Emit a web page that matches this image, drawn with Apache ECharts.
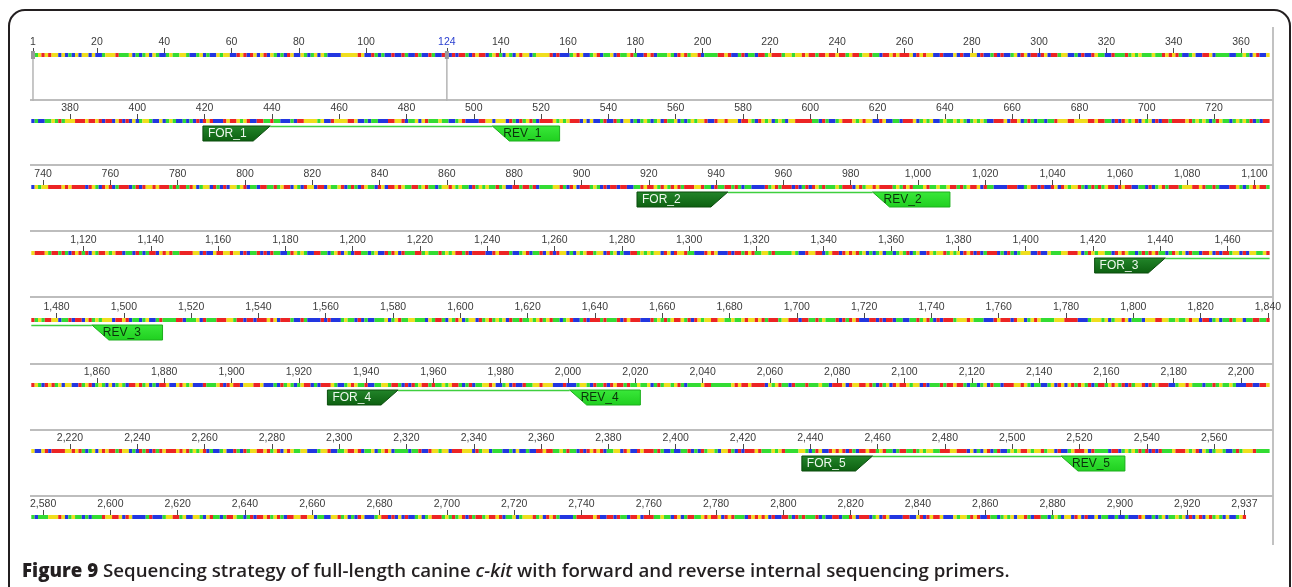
<!DOCTYPE html>
<html>
<head>
<meta charset="utf-8">
<script src="https://cdn.jsdelivr.net/npm/echarts@6/dist/echarts.min.js"></script>
<style>
  html, body { margin: 0; padding: 0; background: #fff; }
  #chart { width: 1292px; height: 587px; }
</style>
</head>
<body>
<div id="chart"></div>
<script>
// c-kit coding sequence, 20 codons per line (979 codons = 2937 bp)
const SEQ_LINES = [
  'ATG AGA GGC GCT CGC GGC GCC TGG GAT TTG CTC TGC GTC CTG TTG GTC CTG CTC CGT GGC',
  'CAG ACA GCG ACG TCT CAG CCG TCT GCG TCC CCG GGG GAG CCA TCT CCA CCA TCC ATC CAT',
  'CCA GCA CAA TCA GAA CTG ATC GTC GAG GCT GGG GAC ACC CTG AGC CTG ACT TGC ATT GAT',
  'CCA GAC TTT GTC AGA TGG ACT TTT AAG ACC TAC TTC AAT GAA ATG GTG GAG AAT AAG AAG',
  'AAT GAA TGG ATT CAA GAG AAA GCA GAG GCC ACC CGC ACC GGC ACC TAC ACC TGC AGC AAC',
  'AGC AAT GGC CTC ACC AGT TCC ATT TAT GTG TTT GTT AGA GAT CCT GCC AAG CTT TTC CTT',
  'GTC GAC CGC TCC TTG TAT GGG AAA GAA GAC AAC GAC ACG CTG GTC CGC TGT CCT CTC ACA',
  'GAC CCA GAA GTG ACC AAT TAT TCC CTC AAG GGG TGC CAG GGG AAG CCT CTT CCC AAG GAC',
  'TTG CGA TTT GTT CCT GAC CCC AAG GCG GGC ATC ATG ATC AAA AGT GTG AAA CGC GCC TAC',
  'CAT CGG CTC TGT CTG CAT TGC TCT GTG GAC CAG GAG GGC AAG TCA GTG CTG TCG GAA AAA',
  'TTC ATC CTG AAA GTG AGG CCA GCC TTC AAA GCT GTG CCT GTT GTG TCT GTG TCC AAA GCA',
  'AGC TAT CTT CTT AGG GAA GGG GAA GAA TTC ACA GTG ACG TGC ACA ATA AAA GAT GTG TCT',
  'AGT TCT GTG TAC TCA ACG TGG AAA AGA GAA AAC AGT CAG ACT AAA CTA CAG GAG AAA TAT',
  'AAT AGC TGG CAT CAC GGT GAC TTC AAT TAT GAA CGT CAG GCA ACG TTG ACT ATC AGT TCA',
  'GCA AGA GTT AAT GAT TCT GGA GTG TTC ATG TGT TAT GCC AAT AAT ACT TTT GGA TCA GCA',
  'AAT GTC ACA ACA ACC TTA GAA GTA GTA GAT AAA GGA TTC ATT AAT ATC TTC CCC ATG ATA',
  'AAC ACT ACA GTA TTT GTA AAC GAT GGA GAA AAT GTA GAT TTG ATT GTT GAA TAT GAA GCA',
  'TTC CCC AAA CCT GAA CAC CAG CAG TGG ATC TAT ATG AAC AGA ACC TTC ACT GAT AAA TGG',
  'GAA GAT TAT CCC AAG TCT GAG AAT GAA AGT AAT ATC AGA TAC GTA AGT GAA CTT CAT CTA',
  'ACG AGA TTA AAA GGC ACC GAA GGA GGC ACT TAC ACA TTC CTA GTG TCC AAT TCT GAC GTC',
  'AAT TCT GCC ATA GCA TTT AAT GTT TAT GTG AAT ACA AAA CCA GAA ATC CTG ACT TAC GAC',
  'AGG CTC GTG AAT GGC ATG CTC CAA TGT GTG GCA GCA GGA TTC CCA GAG CCC ACA ATA GAT',
  'TGG TAT TTT TGT CCA GGA ACT GAA CAG AGA TGC TCT GCT TCT GTA CTG CCA GTG GAT GTG',
  'CAG ACA CTA AAC TCA TCT GGG CCA CCG TTT GGA AAG CTA GTG GTT CAG AGT TCT ATA GAT',
  'TCT AGT GCA TTC AAG CAC AAT GGC ACG GTT GAA TGT AAG GCT TAC AAC GAT GTG GGC AAG',
  'ACT TCT GCC TAT TTT AAC TTT GCA TTT AAA GGT AAC AAC AAA GAG CAA ATC CAT CCC CAC',
  'ACC CTG TTC ACT CCT TTG CTG ATT GGT TTC GTA ATC GTA GCT GGC ATG ATG TGC ATT ATT',
  'GTG ATG ATT CTG ACC TAC AAA TAT TTA CAG AAA CCC ATG TAT GAA GTA CAG TGG AAG GTT',
  'GTT GAG GAG ATA AAT GGA AAC AAT TAT GTT TAC ATA GAC CCA ACA CAA CTT CCT TAT GAT',
  'CAC AAA TGG GAG TTT CCC AGA AAC AGG CTG AGT TTT GGG AAA ACC CTG GGT GCT GGA GCT',
  'TTC GGG AAG GTT GTT GAG GCA ACT GCT TAT GGC TTA ATT AAG TCA GAT GCG GCC ATG ACT',
  'GTC GCT GTC AAG ATG CTC AAG CCG AGT GCC CAT TTG ACA GAA CGG GAA GCC CTC ATG TCT',
  'GAA CTC AAA GTC CTG AGT TAC CTT GGT AAT CAC ATG AAT ATT GTG AAT CTA CTT GGA GCC',
  'TGC ACC ATT GGA GGG CCC ACC CTG GTC ATT ACA GAA TAT TGT TGC TAT GGT GAT CTT TTG',
  'AAT TTT TTG AGA AGA AAA CGT GAT TCA TTT ATT TGT TCA AAG CAG GAA GAT CAT GCA GAA',
  'GTG GCA CTT TAT AAG AAT CTT CTG CAT TCA AAG GAG TCT TCC TGC AGC GAT AGT ACT AAT',
  'GAG TAC ATG GAC ATG AAA CCT GGA GTT TCT TAT GTT GTC CCA ACC AAG GCC GAC AAA AGG',
  'AGA TCT GCG AGA ATA GGC TCA TAC ATA GAA AGA GAT GTG ACT CCT GCC ATC ATG GAA GAT',
  'GAC GAG TTG GCC CTG GAC CTT GAA GAC TTG CTG AGC TTT TCT TAC CAG GTG GCA AAG GGC',
  'ATG GCT TTC CTC GCC TCC AAG AAT TGT ATT CAC AGA GAC TTG GCA GCC AGA AAT ATC CTC',
  'CTT ACT CAT GGT CGG ATC ACA AAG ATT TGT GAT TTT GGT CTA GCC AGA GAC ATC AAG AAT',
  'GAT TCT AAT TAT GTG GTT AAA GGA AAC GCT CGA CTA CCT GTG AAG TGG ATG GCA CCT GAA',
  'AGC ATT TTC AAC TGT GTA TAC ACA TTT GAA AGT GAC GTC TGG TCC TAT GGG ATT TTT CTT',
  'TGG GAG CTG TTC TCT TTA GGA AGC AGC CCC TAC CCT GGA ATG CCG GTC GAT TCT AAG TTC',
  'TAC AAG ATG ATC AAG GAA GGC TTC CGG ATG CTC AGC CCT GAA CAC GCA CCT GCT GAA ATG',
  'TAT GAC ATA ATG AAG ACT TGC TGG GAT GCA GAT CCC CTA AAA AGA CCA ACA TTC AAG CAA',
  'ATT GTT CAG CTA ATT GAG AAG CAG ATT TCA GAG AGC ACC AAT CAT ATT TAC TCC AAC TTA',
  'GCA AAC TGC AGC CCC AAC CGA CAG AAG CCC GTG GTA GAC CAT TCT GTG CGG ATC AAT TCT',
  'GTC GGC AGC ACC GCT TCC TCC TCC CAG CCT CTG CTT GTG CAC GAC GAT GTC GCC TGA'
];
const SEQ = SEQ_LINES.join(' ').replace(/\s+/g, '');

// rows of the map (first/last base of each line)
const ROW_START = [1, 369, 737, 1105, 1473, 1841, 2209, 2577];
const ROW_END = [368, 736, 1104, 1472, 1840, 2208, 2576, 2937];

const ROW_TICKS = [
  [1, 20, 40, 60, 80, 100, 124, 140, 160, 180, 200, 220, 240, 260, 280, 300, 320, 340, 360],
  [380, 400, 420, 440, 460, 480, 500, 520, 540, 560, 580, 600, 620, 640, 660, 680, 700, 720],
  [740, 760, 780, 800, 820, 840, 860, 880, 900, 920, 940, 960, 980, 1000, 1020, 1040, 1060, 1080, 1100],
  [1120, 1140, 1160, 1180, 1200, 1220, 1240, 1260, 1280, 1300, 1320, 1340, 1360, 1380, 1400, 1420, 1440, 1460],
  [1480, 1500, 1520, 1540, 1560, 1580, 1600, 1620, 1640, 1660, 1680, 1700, 1720, 1740, 1760, 1780, 1800, 1820, 1840],
  [1860, 1880, 1900, 1920, 1940, 1960, 1980, 2000, 2020, 2040, 2060, 2080, 2100, 2120, 2140, 2160, 2180, 2200],
  [2220, 2240, 2260, 2280, 2300, 2320, 2340, 2360, 2380, 2400, 2420, 2440, 2460, 2480, 2500, 2520, 2540, 2560],
  [2580, 2600, 2620, 2640, 2660, 2680, 2700, 2720, 2740, 2760, 2780, 2800, 2820, 2840, 2860, 2880, 2900, 2920, 2937]
];

const CURSOR = 124;          // highlighted position (blue label)
const SELECTION = [1, 124];  // selection edges in the first row

const PRIMER_NAME = ['FOR_1', 'REV_1', 'FOR_2', 'REV_2', 'FOR_3', 'REV_3', 'FOR_4', 'REV_4', 'FOR_5', 'REV_5'];
const PRIMER_START = [420, 506, 917, 987, 1421, 1491, 1929, 2001, 2438, 2515];
const PRIMER_END = [439, 525, 943, 1009, 1441, 1511, 1949, 2021, 2458, 2533];

const BASES = 'ACGT';
const BASE_COLOR = ['#ec2424', '#2236e0', '#f0de1e', '#33dc33'];

// layout
const BAR_Y = [55, 121, 187, 253, 320, 385, 451, 517];
const SEP_Y = [100, 165, 231, 297, 364, 430, 496];
const GRID_LEFT = 31.3;
const GRID_W = 1238.3;
const ROW_SPAN = 368;
const RULER_FONT = '"Liberation Sans", Arial, sans-serif';
const CAPTION_FONT = '"Open Sans", sans-serif';

const chart = echarts.init(document.getElementById('chart'), null, {renderer: 'canvas'});

const baseRuns = ROW_START.map((s, r) => {
  const runs = [];
  for (let p = s; p <= ROW_END[r] && p <= SEQ.length; p++) {
    const code = BASES.indexOf(SEQ[p - 1]);
    const last = runs[runs.length - 1];
    if (last && last[2] === code && last[1] === p - 1) last[1] = p;
    else runs.push([p, p, code]);
  }
  return runs;
});

const annoData = ROW_START.map(() => []);
// amplicon links, drawn first so primers sit on top
for (let k = 0; k < PRIMER_NAME.length; k += 2) {
  const a = PRIMER_END[k] + 0.5, b = PRIMER_START[k + 1] - 0.5;
  ROW_START.forEach((s, r) => {
    const lo = Math.max(a, s - 0.5), hi = Math.min(b, s - 0.5 + ROW_SPAN);
    if (hi > lo) annoData[r].push([lo, hi, 0, k]);
  });
}
PRIMER_NAME.forEach((name, i) => {
  const r = ROW_START.findIndex((s, j) => PRIMER_START[i] >= s && PRIMER_START[i] <= ROW_END[j]);
  annoData[r].push([PRIMER_START[i] - 0.5, PRIMER_END[i] + 0.5, name.indexOf('FOR') === 0 ? 1 : 2, i]);
});

function fmt(v) {
  const s = v.toLocaleString('en-US');
  return v === CURSOR ? '{cur|' + s + '}' : s;
}

function renderBase(params, api) {
  const p0 = api.coord([api.value(0) - 0.5, 0]);
  const p1 = api.coord([api.value(1) + 0.5, 0]);
  return {
    type: 'rect',
    shape: {x: p0[0], y: p0[1] - 2, width: p1[0] - p0[0], height: 4},
    style: {fill: BASE_COLOR[api.value(2)]}
  };
}

function renderAnno(params, api) {
  const kind = api.value(2);
  const p0 = api.coord([api.value(0), 0]);
  const p1 = api.coord([api.value(1), 0]);
  const top = p0[1] + 5;
  if (kind === 0) {
    return {
      type: 'line',
      shape: {x1: p0[0], y1: top + 0.5, x2: p1[0], y2: top + 0.5},
      style: {stroke: '#3fcf3f', lineWidth: 1.5}
    };
  }
  const h = 15, slant = 17;
  const x0 = p0[0], x1 = p1[0];
  const fw = kind === 1;
  const pts = fw
    ? [[x0, top], [x1, top], [x1 - slant, top + h], [x0, top + h]]
    : [[x0, top], [x1, top], [x1, top + h], [x0 + slant, top + h]];
  return {
    type: 'group',
    children: [
      {
        type: 'polygon',
        shape: {points: pts},
        style: {
          fill: fw
            ? new echarts.graphic.LinearGradient(0, 0, 0, 1, [{offset: 0, color: '#23862a'}, {offset: 1, color: '#0c5f10'}])
            : new echarts.graphic.LinearGradient(0, 0, 0, 1, [{offset: 0, color: '#3ae83a'}, {offset: 1, color: '#1fcf1f'}]),
          stroke: fw ? '#0a4d0d' : '#1cae1c',
          lineWidth: 1
        }
      },
      {
        type: 'text',
        style: {
          text: PRIMER_NAME[api.value(3)],
          x: fw ? x0 + 5 : x0 + 11,
          y: top + h / 2 + 0.5,
          verticalAlign: 'middle',
          fill: fw ? '#eef8ee' : '#0b330b',
          font: '12px ' + RULER_FONT
        }
      }
    ]
  };
}

function renderSel(params, api) {
  const p = api.coord([api.value(0), 0]);
  return {
    type: 'group',
    children: [
      {type: 'line', shape: {x1: p[0], y1: p[1], x2: p[0], y2: p[1] + 46}, style: {stroke: '#b4b4b4', lineWidth: 1.5}},
      {type: 'rect', shape: {x: p[0] - 2, y: p[1] - 4, width: 4, height: 8}, style: {fill: '#9a9a9a'}}
    ]
  };
}

const grid = [], xAxis = [], yAxis = [], series = [];
ROW_START.forEach((s, r) => {
  grid.push({left: GRID_LEFT, width: GRID_W, top: BAR_Y[r], height: 40});
  xAxis.push({
    gridIndex: r, type: 'value', position: 'top',
    min: s - 0.5, max: s - 0.5 + ROW_SPAN,
    axisLine: {show: false},
    splitLine: {show: false},
    axisTick: {show: true, customValues: ROW_TICKS[r], length: 7, lineStyle: {color: '#4a4a4a', width: 1}},
    axisLabel: {
      customValues: ROW_TICKS[r], margin: 7, fontSize: 10.5, color: '#3c3c3c',
      fontFamily: RULER_FONT, formatter: fmt,
      rich: {cur: {color: '#2a3fd0', fontSize: 10.5, fontFamily: RULER_FONT}}
    }
  });
  yAxis.push({gridIndex: r, type: 'value', min: 0, max: 40, inverse: true, show: false});
  series.push({
    type: 'custom', xAxisIndex: r, yAxisIndex: r, z: 3,
    renderItem: renderBase, encode: {x: [0, 1]}, data: baseRuns[r], silent: true
  });
  series.push({
    type: 'custom', xAxisIndex: r, yAxisIndex: r, z: 4,
    renderItem: renderAnno, encode: {x: [0, 1]}, data: annoData[r], silent: true
  });
});
series.push({
  type: 'custom', xAxisIndex: 0, yAxisIndex: 0, z: 5,
  renderItem: renderSel, encode: {x: 0}, data: SELECTION.map(v => [v]), silent: true
});

const graphic = [
  {
    type: 'rect', silent: true, z: 0,
    shape: {x: 9, y: 10, width: 1281, height: 700, r: [16, 16, 0, 0]},
    style: {fill: 'none', stroke: '#231f20', lineWidth: 2}
  },
  {
    type: 'line', silent: true,
    shape: {x1: 1273, y1: 27, x2: 1273, y2: 545},
    style: {stroke: '#c2c2c2', lineWidth: 2}
  }
].concat(SEP_Y.map(y => ({
  type: 'line', silent: true,
  shape: {x1: 30, y1: y, x2: 1273, y2: y},
  style: {stroke: '#bdbdbd', lineWidth: 2}
}))).concat([{
  type: 'text', silent: true,
  style: {
    x: 22, y: 572, verticalAlign: 'middle',
    text: '{b|Figure 9} {n|Sequencing strategy of full-length canine }{i|c-kit}{n| with forward and reverse internal sequencing primers.}',
    rich: {
      b: {fontFamily: CAPTION_FONT, fontWeight: 800, fontSize: 18.7, fill: '#231f20'},
      n: {fontFamily: CAPTION_FONT, fontWeight: 600, fontSize: 18.7, fill: '#231f20'},
      i: {fontFamily: CAPTION_FONT, fontWeight: 600, fontStyle: 'italic', fontSize: 18.7, fill: '#231f20'}
    },
    fill: '#231f20', font: '600 18.7px "Open Sans", sans-serif'
  }
}]);

chart.setOption({
  backgroundColor: '#ffffff',
  animation: false,
  grid, xAxis, yAxis, series, graphic
});
</script>
</body>
</html>
